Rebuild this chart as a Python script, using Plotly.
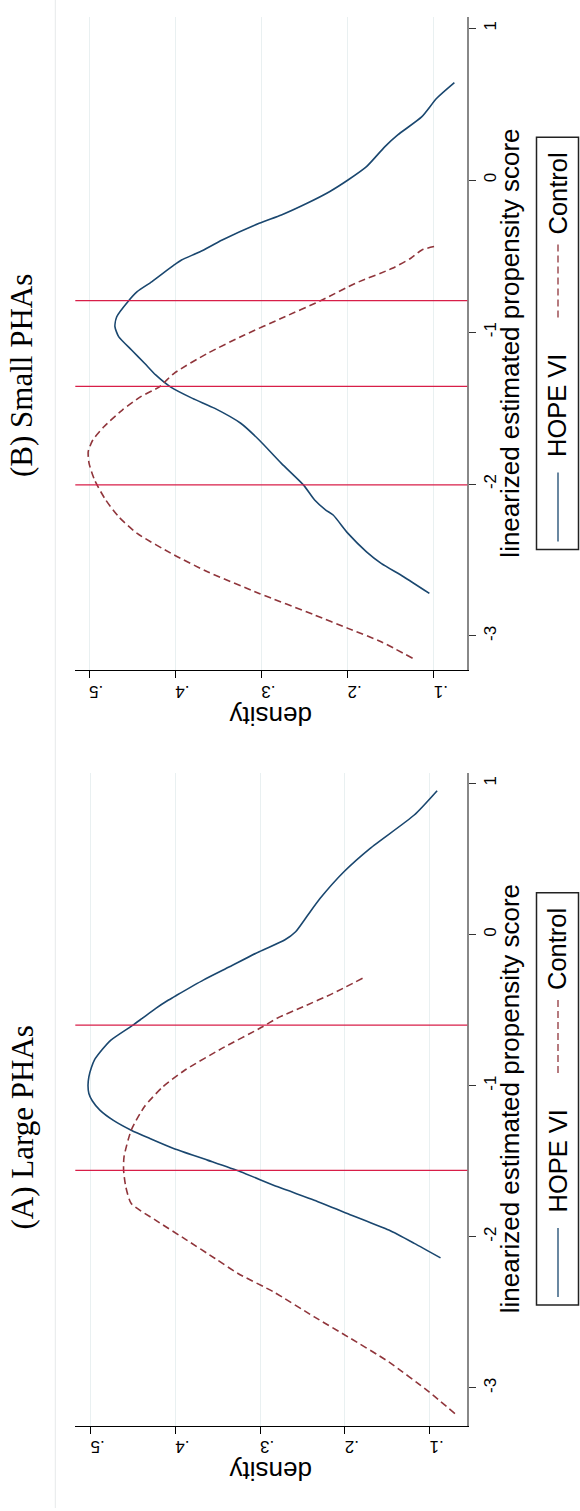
import plotly.graph_objects as go

# ---------------- data ----------------
# Panel A: Large PHAs  (propensity score, density)
a_hope_p = [-2.14, -2.044, -1.956, -1.857, -1.758, -1.67, -1.57, -1.493, -1.416, -1.35, -1.295,
            -1.23, -1.162, -1.10, -1.052, -1.0, -0.942, -0.88, -0.831, -0.76, -0.699, -0.6,
            -0.555, -0.489, -0.434, -0.401, -0.302, -0.214, -0.114, -0.037, 0.018, 0.117,
            0.239, 0.415, 0.57, 0.79, 0.951]
a_hope_d = [0.087, 0.118, 0.148, 0.192, 0.236, 0.279, 0.323, 0.362, 0.402, 0.43, 0.452,
            0.473, 0.489, 0.498, 0.502, 0.503, 0.502, 0.499, 0.4955, 0.486, 0.476, 0.45,
            0.439, 0.423, 0.408, 0.398, 0.367, 0.336, 0.301, 0.271, 0.258, 0.245,
            0.229, 0.201, 0.170, 0.118, 0.091]
a_ctrl_p = [-3.17, -3.027, -2.828, -2.663, -2.53, -2.365, -2.243, -2.144, -2.022, -1.89,
            -1.78, -1.67, -1.56, -1.471, -1.295, -1.14, -1.008, -0.897, -0.754, -0.611,
            -0.555, -0.478, -0.39, -0.29]
a_ctrl_d = [0.07, 0.1005, 0.148, 0.196, 0.236, 0.284, 0.326, 0.353, 0.3865, 0.4234,
            0.452, 0.4584, 0.461, 0.4605, 0.452, 0.4365, 0.4147, 0.3885, 0.345, 0.297,
            0.280, 0.249, 0.214, 0.179]
a_cutoffs = [-1.561, -0.6]

# Panel B: Small PHAs
b_hope_p = [-2.72, -2.61, -2.522, -2.446, -2.325, -2.204, -2.171, -2.105, -2.007, -1.864, -1.71,
            -1.6, -1.502, -1.436, -1.36, -1.282, -1.205, -1.118, -1.03, -0.964, -0.899, -0.8,
            -0.734, -0.668, -0.558, -0.525, -0.471, -0.394, -0.284, -0.229, -0.152, -0.076,
            0.001, 0.089, 0.221, 0.298, 0.418, 0.539, 0.642]
b_hope_d = [0.105, 0.135, 0.161, 0.178, 0.1995, 0.2167, 0.2253, 0.2382, 0.251, 0.2768, 0.3026,
            0.324, 0.354, 0.38, 0.4056, 0.4227, 0.4356, 0.4507, 0.4657, 0.470, 0.4679, 0.455,
            0.4442, 0.427, 0.4013, 0.3927, 0.3712, 0.3455, 0.3026, 0.2768, 0.247, 0.221,
            0.1995, 0.178, 0.1566, 0.1417, 0.1137, 0.0965, 0.076]
b_ctrl_p = [-3.147, -3.038, -2.95, -2.862, -2.72, -2.577, -2.467, -2.325, -2.215, -2.105, -1.974,
            -1.864, -1.787, -1.71, -1.623, -1.513, -1.425, -1.36, -1.271, -1.14, -1.019,
            -0.909, -0.789, -0.679, -0.58, -0.514, -0.459, -0.433]
b_ctrl_d = [0.1245, 0.161, 0.1995, 0.2382, 0.3026, 0.3626, 0.4013, 0.4442, 0.4657, 0.4807, 0.4936,
            0.500, 0.501, 0.4957, 0.4828, 0.4614, 0.44, 0.4184, 0.4013, 0.3626, 0.3197,
            0.2768, 0.2296, 0.191, 0.148, 0.1266, 0.1137, 0.0965]
b_cutoffs = [-2.006, -1.357, -0.793]

density_ticks = [0.1, 0.2, 0.3, 0.4, 0.5]
density_labels = [".1", ".2", ".3", ".4", ".5"]
score_ticks = [-3, -2, -1, 0, 1]
score_labels = ["-3", "-2", "-1", "0", "1"]

titles = ["(B) Small PHAs", "(A) Large PHAs"]
series_names = ["HOPE VI", "Control"]
x_title = "density"
y_title = "linearized estimated propensity score"

# ---------------- style ----------------
W, H = 580, 1511
NAVY = "#1a476f"
MAROON = "#90353b"
RED = "#d81e48"
GRID = "#e9f0f1"
SANS = "Liberation Sans, Arial, sans-serif"
SERIF = "Liberation Serif, Times New Roman, serif"


def px(x):
    return x / W


def py(y):
    return 1 - y / H


fig = go.Figure()

panels = [
    dict(xa="x", ya="y", hp=b_hope_p, hd=b_hope_d, cp=b_ctrl_p, cd=b_ctrl_d, cut=b_cutoffs,
         top=17.3, bot=670.0, xr=[0.516, 0.061], yr=[-3.224, 1.072], off=-755.5,
         title=titles[0], title_y=376),
    dict(xa="x2", ya="y2", hp=a_hope_p, hd=a_hope_d, cp=a_ctrl_p, cd=a_ctrl_d, cut=a_cutoffs,
         top=772.7, bot=1425.7, xr=[0.518, 0.0554], yr=[-3.25, 1.07], off=0.0,
         title=titles[1], title_y=1127.5),
]

shapes = []
annotations = []
LEFT, RIGHT = 75.3, 467.3

for i, pnl in enumerate(panels):
    fig.add_trace(go.Scatter(x=pnl["hd"], y=pnl["hp"], mode="lines", name=series_names[0],
                             line=dict(color=NAVY, width=1.6, shape="spline", smoothing=0.6),
                             xaxis=pnl["xa"], yaxis=pnl["ya"]))
    fig.add_trace(go.Scatter(x=pnl["cd"], y=pnl["cp"], mode="lines", name=series_names[1],
                             line=dict(color=MAROON, width=1.6, dash="7px,4px",
                                       shape="spline", smoothing=0.6),
                             xaxis=pnl["xa"], yaxis=pnl["ya"]))
    xkey = "xaxis" if pnl["xa"] == "x" else "xaxis2"
    ykey = "yaxis" if pnl["ya"] == "y" else "yaxis2"
    fig.update_layout(**{
        xkey: dict(domain=[px(LEFT), px(RIGHT)], anchor=pnl["ya"], range=pnl["xr"],
                   tickvals=density_ticks, ticktext=density_labels, tickangle=180,
                   ticks="outside", ticklen=7, tickwidth=1.2, tickcolor="#000",
                   ticklabelstandoff=4,
                   showline=True, linecolor="#000", linewidth=1.3,
                   showgrid=True, gridcolor=GRID, gridwidth=1, zeroline=False,
                   tickfont=dict(family=SANS, size=17, color="#000")),
        ykey: dict(domain=[py(pnl["bot"]), py(pnl["top"])], anchor=pnl["xa"], side="right",
                   range=pnl["yr"], tickvals=score_ticks, ticktext=score_labels, tickangle=-90,
                   ticks="outside", ticklen=7, tickwidth=1.2, tickcolor="#333",
                   showline=True, linecolor="#888", linewidth=1.5,
                   showgrid=False, zeroline=False,
                   tickfont=dict(family=SANS, size=17, color="#000")),
    })
    for c in pnl["cut"]:
        shapes.append(dict(type="line", xref=pnl["xa"] + " domain", yref=pnl["ya"],
                           x0=0, x1=1, y0=c, y1=c, line=dict(color=RED, width=1.3)))
    off = pnl["off"]
    annotations.append(dict(text=pnl["title"], x=px(22), y=py(pnl["title_y"]), xref="paper",
                            yref="paper", showarrow=False, textangle=-90,
                            font=dict(family=SERIF, size=31, color="#000"),
                            xanchor="center", yanchor="middle"))
    annotations.append(dict(text=x_title, x=px(271), y=py(pnl["bot"] + 46), xref="paper",
                            yref="paper", showarrow=False, textangle=180,
                            font=dict(family=SANS, size=26, color="#000"),
                            xanchor="center", yanchor="middle"))
    annotations.append(dict(text=y_title, x=px(510), y=py((pnl["top"] + pnl["bot"]) / 2),
                            xref="paper", yref="paper", showarrow=False, textangle=-90,
                            font=dict(family=SANS, size=26, color="#000"),
                            xanchor="center", yanchor="middle"))
    shapes.append(dict(type="rect", xref="paper", yref="paper", x0=px(536.5), x1=px(578.5),
                       y0=py(1305 + off), y1=py(892.7 + off),
                       line=dict(color="#222", width=1.5), fillcolor="rgba(0,0,0,0)"))
    shapes.append(dict(type="line", xref="paper", yref="paper", x0=px(558), x1=px(558),
                       y0=py(1297 + off), y1=py(1228 + off), line=dict(color=NAVY, width=1.3)))
    shapes.append(dict(type="line", xref="paper", yref="paper", x0=px(558), x1=px(558),
                       y0=py(1073 + off), y1=py(1000 + off),
                       line=dict(color=MAROON, width=1.3, dash="7px,4px")))
    annotations.append(dict(text=series_names[0], x=px(557), y=py(1161.5 + off), xref="paper",
                            yref="paper", showarrow=False, textangle=-90,
                            font=dict(family=SANS, size=25.5, color="#000"),
                            xanchor="center", yanchor="middle"))
    annotations.append(dict(text=series_names[1], x=px(557), y=py(949 + off), xref="paper",
                            yref="paper", showarrow=False, textangle=-90,
                            font=dict(family=SANS, size=25.5, color="#000"),
                            xanchor="center", yanchor="middle"))

shapes.append(dict(type="line", xref="paper", yref="paper", x0=px(55.3), x1=px(55.3),
                   y0=py(1508), y1=py(0), line=dict(color="#e6e9ea", width=1)))

fig.update_layout(width=W, height=H, margin=dict(l=0, r=0, t=0, b=0),
                  plot_bgcolor="white", paper_bgcolor="white", showlegend=False,
                  shapes=shapes, annotations=annotations)

fig.write_html(
    "out.html",
    config={"displayModeBar": False},
    post_script=("document.body.style.margin='0';document.body.style.padding='0';"
                 "document.body.style.overflow='hidden';"
                 "document.documentElement.style.overflow='hidden';"),
)
